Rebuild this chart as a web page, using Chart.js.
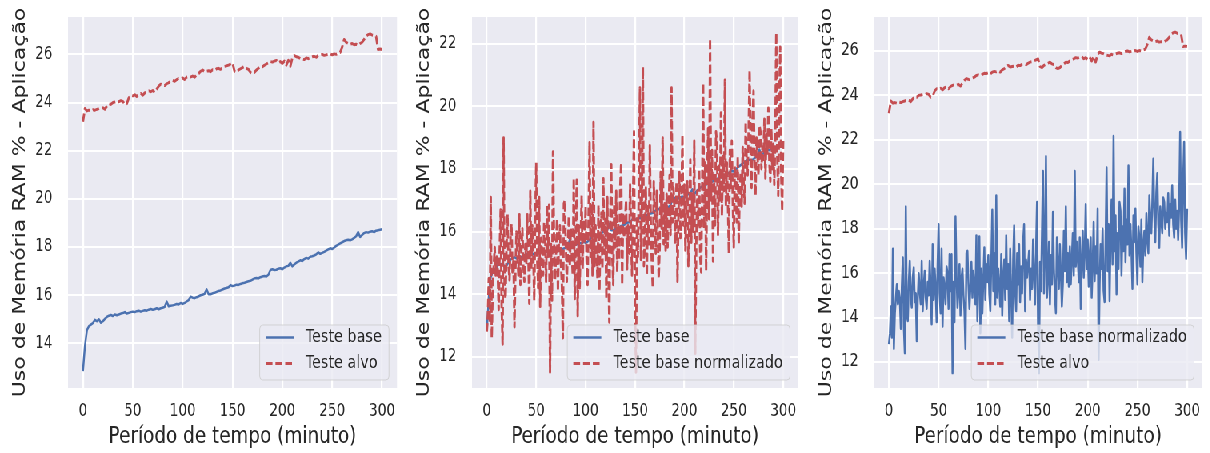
<!DOCTYPE html>
<html>
<head>
<meta charset="utf-8">
<script src="https://cdn.jsdelivr.net/npm/chart.js@4.4.1/dist/chart.umd.min.js"></script>
<style>
  html, body { margin: 0; padding: 0; background: #fff; }
  body { width: 1210px; height: 453px; overflow: hidden; position: relative; }
  /* the reference figure is horizontally squeezed, so draw wide and squeeze */
  #stage { position: absolute; left: 0; top: 0; width: 1513px; height: 453px; transform: scaleX(0.8); transform-origin: 0 0; }
  #stage canvas { position: absolute; top: 0; }
</style>
</head>
<body>
<div id="stage">
  <canvas id="c1" width="505" height="453" style="left:0px"></canvas>
  <canvas id="c2" width="503" height="453" style="left:505px"></canvas>
  <canvas id="c3" width="505" height="453" style="left:1008px"></canvas>
</div>
<script>
// minutes, one sample per minute
const minutes = [
  0,1,2,3,4,5,6,7,8,9,10,11,12,13,14,15,16,17,18,19,
  20,21,22,23,24,25,26,27,28,29,30,31,32,33,34,35,36,37,38,39,
  40,41,42,43,44,45,46,47,48,49,50,51,52,53,54,55,56,57,58,59,
  60,61,62,63,64,65,66,67,68,69,70,71,72,73,74,75,76,77,78,79,
  80,81,82,83,84,85,86,87,88,89,90,91,92,93,94,95,96,97,98,99,
  100,101,102,103,104,105,106,107,108,109,110,111,112,113,114,115,116,117,118,119,
  120,121,122,123,124,125,126,127,128,129,130,131,132,133,134,135,136,137,138,139,
  140,141,142,143,144,145,146,147,148,149,150,151,152,153,154,155,156,157,158,159,
  160,161,162,163,164,165,166,167,168,169,170,171,172,173,174,175,176,177,178,179,
  180,181,182,183,184,185,186,187,188,189,190,191,192,193,194,195,196,197,198,199,
  200,201,202,203,204,205,206,207,208,209,210,211,212,213,214,215,216,217,218,219,
  220,221,222,223,224,225,226,227,228,229,230,231,232,233,234,235,236,237,238,239,
  240,241,242,243,244,245,246,247,248,249,250,251,252,253,254,255,256,257,258,259,
  260,261,262,263,264,265,266,267,268,269,270,271,272,273,274,275,276,277,278,279,
  280,281,282,283,284,285,286,287,288,289,290,291,292,293,294,295,296,297,298,299,
  300
];

// minutes for the smooth series (every 2 minutes)
const minutes2 = [
  0,2,4,6,8,10,12,14,16,18,20,22,24,26,28,30,32,34,36,38,
  40,42,44,46,48,50,52,54,56,58,60,62,64,66,68,70,72,74,76,78,
  80,82,84,86,88,90,92,94,96,98,100,102,104,106,108,110,112,114,116,118,
  120,122,124,126,128,130,132,134,136,138,140,142,144,146,148,150,152,154,156,158,
  160,162,164,166,168,170,172,174,176,178,180,182,184,186,188,190,192,194,196,198,
  200,202,204,206,208,210,212,214,216,218,220,222,224,226,228,230,232,234,236,238,
  240,242,244,246,248,250,252,254,256,258,260,262,264,266,268,270,272,274,276,278,
  280,282,284,286,288,290,292,294,296,298,300
];

const testeBase = [
  12.85, 13.9, 14.55, 14.72, 14.78, 14.85, 14.98, 14.92, 15.0, 14.86,
  14.92, 15.02, 15.1, 15.15, 15.18, 15.14, 15.2, 15.17, 15.2, 15.24,
  15.26, 15.3, 15.24, 15.27, 15.3, 15.32, 15.3, 15.34, 15.36, 15.32,
  15.35, 15.38, 15.36, 15.4, 15.43, 15.4, 15.42, 15.46, 15.42, 15.46,
  15.48, 15.52, 15.74, 15.54, 15.56, 15.58, 15.6, 15.64, 15.62, 15.68,
  15.64, 15.68, 15.74, 15.8, 15.94, 15.9, 15.88, 15.92, 15.95, 16.0,
  16.02, 16.06, 16.25, 16.04, 16.04, 16.08, 16.1, 16.14, 16.18, 16.2,
  16.24, 16.28, 16.3, 16.33, 16.42, 16.38, 16.4, 16.44, 16.43, 16.47,
  16.5, 16.52, 16.55, 16.58, 16.6, 16.65, 16.7, 16.72, 16.7, 16.75,
  16.78, 16.8, 16.78, 16.85, 17.05, 17.08, 17.05, 17.06, 17.1, 17.12,
  17.08, 17.15, 17.2, 17.22, 17.35, 17.2, 17.28, 17.35, 17.4, 17.45,
  17.42, 17.5, 17.55, 17.52, 17.6, 17.62, 17.65, 17.7, 17.78, 17.72,
  17.76, 17.8, 17.85, 17.9, 17.95, 17.92, 17.98, 18.05, 18.1, 18.15,
  18.2, 18.25, 18.28, 18.3, 18.28, 18.32, 18.38, 18.45, 18.62, 18.42,
  18.5, 18.58, 18.62, 18.6, 18.64, 18.66, 18.62, 18.68, 18.7, 18.72,
  18.74
];

const testeAlvo = [
  23.2, 23.75, 23.65, 23.68, 23.65, 23.7, 23.68, 23.72, 23.75, 23.8,
  23.78, 23.72, 23.85, 23.95, 23.92, 24.0, 24.02, 24.05, 24.03, 24.08,
  24.05, 23.92, 23.95, 24.2, 24.3, 24.28, 24.32, 24.25, 24.35, 24.38,
  24.3, 24.4, 24.45, 24.48, 24.45, 24.5, 24.42, 24.55, 24.68, 24.76,
  24.72, 24.7, 24.78, 24.82, 24.9, 24.92, 24.88, 24.95, 25.0, 24.98,
  25.02, 24.96, 25.05, 25.08, 25.06, 25.1, 25.05, 25.15, 25.2, 25.3,
  25.35, 25.28, 25.3, 25.32, 25.28, 25.36, 25.34, 25.4, 25.42, 25.38,
  25.45, 25.5, 25.52, 25.55, 25.6, 25.65, 25.3, 25.25, 25.35, 25.4,
  25.45, 25.5, 25.42, 25.38, 25.25, 25.2, 25.25, 25.35, 25.42, 25.5,
  25.48, 25.55, 25.6, 25.65, 25.7, 25.68, 25.72, 25.75, 25.65, 25.7,
  25.62, 25.72, 25.55, 25.75, 25.5, 25.85, 25.95, 25.9, 25.88, 25.82,
  25.8, 25.78, 25.85, 25.82, 25.86, 25.9, 25.92, 25.88, 25.95, 25.98,
  26.0, 25.96, 25.98, 26.0, 26.02, 25.98, 26.02, 26.0, 26.05, 26.08,
  26.3, 26.62, 26.5, 26.45, 26.42, 26.45, 26.4, 26.42, 26.38, 26.45,
  26.5, 26.62, 26.75, 26.82, 26.85, 26.8, 26.78, 26.75, 26.2, 26.22,
  26.2
];

const testeBaseNormalizado = [
  12.8, 13.3, 14.5, 13.1, 17.1, 12.6, 14.2, 14.9, 15.5, 14.6,
  15.2, 14.8, 13.5, 15.4, 16.7, 13.6, 12.4, 19.0, 14.1, 13.85,
  15.6, 16.55, 14.9, 14.45, 15.8, 16.25, 14.7, 15.1, 12.95, 14.8,
  16.0, 15.2, 14.6, 16.55, 14.3, 15.4, 16.1, 14.9, 14.4, 15.6,
  15.0, 16.55, 15.3, 13.7, 17.3, 14.8, 16.2, 15.3, 13.8, 16.4,
  18.2, 15.1, 14.2, 17.1, 13.6, 15.8, 15.35, 14.6, 16.3, 16.0,
  14.4, 16.85, 15.2, 16.85, 11.5, 15.6, 13.8, 18.55, 15.9, 14.45,
  15.2, 16.4, 14.1, 15.8, 16.2, 15.0, 14.3, 12.6, 16.9, 17.0,
  15.5, 14.4, 15.4, 16.5, 14.9, 16.1, 15.3, 14.6, 17.7, 13.85,
  15.9, 17.65, 13.3, 16.2, 14.2, 15.7, 17.15, 14.8, 16.4, 15.6,
  16.8, 15.05, 14.3, 16.5, 18.85, 15.2, 16.9, 14.6, 19.5, 14.9,
  16.2, 15.4, 14.5, 16.85, 14.1, 15.9, 16.6, 14.8, 17.7, 15.3,
  16.4, 13.85, 17.1, 15.0, 13.1, 16.6, 18.15, 15.2, 14.3, 16.9,
  15.5, 17.3, 14.7, 16.3, 15.1, 17.4, 18.2, 14.3, 16.6, 15.8,
  16.4, 17.0, 14.8, 16.2, 15.3, 17.5, 15.95, 14.6, 17.0, 19.2,
  13.7, 11.5, 16.5, 15.2, 17.8, 20.6, 15.1, 16.9, 21.26, 14.9,
  15.8, 17.4, 14.6, 16.8, 15.5, 18.75, 16.2, 15.0, 14.2, 17.6,
  16.4, 15.3, 17.3, 16.0, 14.5, 15.5, 17.9, 16.1, 19.0, 15.6,
  16.9, 15.4, 17.2, 15.5, 16.6, 17.8, 15.9, 20.6, 16.3, 17.4,
  16.7, 15.6, 17.6, 14.4, 16.5, 17.9, 15.8, 16.9, 19.1, 16.2,
  17.5, 15.4, 16.8, 17.6, 14.9, 16.3, 18.3, 15.65, 17.2, 16.0,
  18.9, 12.1, 15.5, 17.3, 16.2, 18.0, 15.2, 14.7, 17.4, 20.75,
  16.1, 18.2, 14.75, 17.6, 19.3, 16.4, 22.17, 17.0, 18.6, 15.05,
  17.8, 16.2, 19.2, 18.8, 15.9, 18.1, 17.0, 19.8, 16.5, 18.4,
  17.3, 20.85, 16.8, 18.2, 17.0, 15.3, 18.6, 17.4, 18.9, 16.9,
  15.5, 18.1, 17.6, 16.3, 18.4, 15.6, 17.3, 17.9, 16.8, 18.7,
  17.5, 16.9, 19.5, 18.3, 17.8, 19.2, 21.15, 18.6, 17.4, 19.6,
  20.5, 18.2, 17.15, 19.0, 18.4, 17.8, 19.4, 19.2, 18.0, 18.7,
  18.3, 19.6, 17.7, 19.1, 18.5, 19.95, 18.2, 17.6, 19.3, 18.0,
  18.8, 17.5, 19.0, 22.35, 18.4, 17.15, 20.2, 21.9, 17.8, 16.65,
  18.9
];

const xTicks = [0, 50, 100, 150, 200, 250, 300];
const yTicksLeft = [14, 16, 18, 20, 22, 24, 26];
const yTicksMiddle = [12, 14, 16, 18, 20, 22];
const yTicksRight = [12, 14, 16, 18, 20, 22, 24, 26];

const yTitle = 'Uso de Memória RAM % - Aplicação';
const xTitle = 'Período de tempo (minuto)';

const BLUE = '#4C72B0';
const RED = '#C44E52';
const INK = '#262626';
const FONT = '"DejaVu Sans", sans-serif';
const DASH = [8.5, 3.7];

function pairs(xs, ys) {
  return ys.map((y, i) => ({ x: xs[i], y: y }));
}

const plotBg = {
  id: 'plotBg',
  beforeDraw(chart) {
    const { ctx, chartArea: a } = chart;
    ctx.save();
    ctx.fillStyle = '#EAEAF2';
    ctx.fillRect(a.left, a.top, a.right - a.left, a.bottom - a.top);
    ctx.restore();
  }
};

// rotated y title, drawn here so it is not squeezed to the axis height
const sideTitle = {
  id: 'sideTitle',
  afterDraw(chart, args, opts) {
    const { ctx, chartArea: a } = chart;
    ctx.save();
    ctx.translate(opts.x, (a.top + a.bottom) / 2);
    ctx.rotate(-Math.PI / 2);
    ctx.font = '22px ' + FONT;
    ctx.fillStyle = INK;
    ctx.textAlign = 'center';
    ctx.textBaseline = 'middle';
    ctx.fillText(opts.text, 0, 0);
    ctx.restore();
  }
};

// matplotlib-like legend box in the lower right corner
const boxLegend = {
  id: 'boxLegend',
  afterDatasetsDraw(chart) {
    const { ctx, chartArea: a } = chart;
    const sets = chart.data.datasets;
    ctx.save();
    ctx.font = '18px ' + FONT;
    const textW = Math.max(...sets.map(d => ctx.measureText(d.label).width));
    const w = 7.5 + 35 + 15 + textW + 9;
    const h = 55;
    const left = a.right - 10 - w;
    const top = a.bottom - 8 - h;
    ctx.beginPath();
    if (ctx.roundRect) ctx.roundRect(left, top, w, h, 4);
    else ctx.rect(left, top, w, h);
    ctx.fillStyle = 'rgba(234,234,242,0.8)';
    ctx.fill();
    ctx.strokeStyle = 'rgba(204,204,204,0.8)';
    ctx.lineWidth = 1;
    ctx.stroke();
    sets.forEach((d, i) => {
      const y = top + 12.5 + i * 26;
      ctx.beginPath();
      ctx.setLineDash(d.borderDash || []);
      ctx.strokeStyle = d.borderColor;
      ctx.lineWidth = d.borderWidth;
      ctx.moveTo(left + 7.5, y);
      ctx.lineTo(left + 42.5, y);
      ctx.stroke();
      ctx.setLineDash([]);
      ctx.fillStyle = INK;
      ctx.textAlign = 'left';
      ctx.textBaseline = 'middle';
      ctx.fillText(d.label, left + 57.5, y);
    });
    ctx.restore();
  }
};

function solid(label, data, order) {
  return { label, data, borderColor: BLUE, backgroundColor: BLUE, borderWidth: 2.5,
    pointRadius: 0, tension: 0, borderJoinStyle: 'round', order: order || 0 };
}

function dashed(label, data, order) {
  return { label, data, borderColor: RED, backgroundColor: RED, borderWidth: 2.9,
    borderDash: DASH, pointRadius: 0, tension: 0, borderJoinStyle: 'round', order: order || 0 };
}

function makePanel(id, datasets, yMin, yMax, yTicks, axisWidth, padRight, titleX) {
  new Chart(document.getElementById(id), {
    type: 'line',
    data: { datasets },
    options: {
      responsive: false,
      animation: false,
      layout: { padding: { top: 17, right: padRight, bottom: 0, left: 0 } },
      plugins: {
        legend: { display: false },
        tooltip: { enabled: false },
        sideTitle: { text: yTitle, x: titleX }
      },
      scales: {
        x: {
          type: 'linear',
          min: -15,
          max: 315,
          afterBuildTicks: s => { s.ticks = xTicks.map(v => ({ value: v })); },
          afterFit: s => { s.height = 65; s.paddingLeft = 0; s.paddingRight = 0; },
          grid: { color: '#ffffff', lineWidth: 2.2, drawTicks: false },
          border: { display: false },
          ticks: { color: INK, font: { family: FONT, size: 17 }, padding: 13, maxRotation: 0,
            callback: v => String(v) },
          title: { display: true, text: xTitle, color: INK, font: { family: FONT, size: 23 },
            padding: { top: 0, bottom: 2.2 } }
        },
        y: {
          type: 'linear',
          min: yMin,
          max: yMax,
          afterBuildTicks: s => { s.ticks = yTicks.map(v => ({ value: v })); },
          afterFit: s => { s.width = axisWidth; s.paddingTop = 0; s.paddingBottom = 0; },
          grid: { color: '#ffffff', lineWidth: 2, drawTicks: false },
          border: { display: false },
          ticks: { color: INK, font: { family: FONT, size: 17 }, padding: 19.4,
            callback: v => String(v) }
        }
      }
    },
    plugins: [plotBg, boxLegend, sideTitle]
  });
}

makePanel('c1', [
  solid('Teste base', pairs(minutes2, testeBase)),
  dashed('Teste alvo', pairs(minutes2, testeAlvo))
], 12.15, 27.55, yTicksLeft, 85, 8.75, 25);

makePanel('c2', [
  solid('Teste base', pairs(minutes2, testeBase), 1),
  dashed('Teste base normalizado', pairs(minutes, testeBaseNormalizado), 0)
], 11.0, 22.86, yTicksMiddle, 85, 10.5, 24.8);

makePanel('c3', [
  solid('Teste base normalizado', pairs(minutes, testeBaseNormalizado)),
  dashed('Teste alvo', pairs(minutes2, testeAlvo))
], 10.83, 27.53, yTicksRight, 84.5, 10.5, 25.3);
</script>
</body>
</html>
